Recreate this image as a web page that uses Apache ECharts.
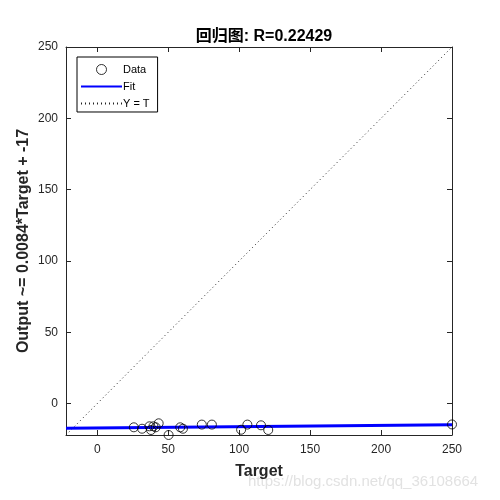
<!DOCTYPE html>
<html><head><meta charset="utf-8">
<script src="https://cdn.jsdelivr.net/npm/echarts@6/dist/echarts.min.js"></script>
<style>html,body{margin:0;padding:0;background:#fff}#c{width:500px;height:500px}</style>
</head><body><div id="c"></div>
<script>
const titleText = '回归图: R=0.22429';
const xName = 'Target';
const yName = 'Output ~= 0.0084*Target + -17';
const tickValues = [0, 50, 100, 150, 200, 250];
const axisMin = -22;
const axisMax = 250;
const targets = [25.8, 31.6, 36.8, 37.9, 39.6, 41.2, 43.3, 50.3, 58.5, 60.4, 73.7, 80.8, 101.4, 105.8, 115.4, 120.5, 250];
const outputs = [-16.6, -17.6, -15.9, -18.5, -15.9, -16.6, -13.8, -22, -16.6, -17.6, -14.7, -14.7, -18.3, -14.7, -15.2, -18.5, -14.6];
const fitX = [-22, 250];
const fitY = [-17.2, -14.9];
const identX = [-22, 250];
const identY = [-22, 250];
const legendNames = ['Data', 'Fit', 'Y = T'];
const watermark = 'https://blog.csdn.net/qq_36108664';

const font = 'Liberation Sans, Arial, Noto Sans CJK SC, sans-serif';
const chart = echarts.init(document.getElementById('c'));
const axisCommon = {
  type: 'value', min: axisMin, max: axisMax,
  axisLine: {show: true, onZero: false, lineStyle: {color: '#262626', width: 1}},
  axisTick: {show: true, inside: true, length: 5, customValues: tickValues, lineStyle: {color: '#262626'}},
  splitLine: {show: false}
};
chart.setOption({
  animation: false,
  title: {text: titleText, left: 259, top: 24, textAlign: 'center',
    textStyle: {fontFamily: font, fontSize: 16, fontWeight: 'bold', color: '#000'}},
  grid: {left: 66, right: 48, top: 47, bottom: 65, containLabel: false},
  legend: {
    orient: 'vertical', left: 77, top: 57,
    data: [
      {name: legendNames[0], itemStyle: {borderWidth: 1}},
      {name: legendNames[1], itemStyle: {opacity: 0}},
      {name: legendNames[2], itemStyle: {opacity: 0}}
    ],
    backgroundColor: '#fff', borderColor: '#000', borderWidth: 1,
    padding: [7, 8, 3, 3], itemWidth: 41, itemHeight: 10, itemGap: 6,
    textStyle: {fontFamily: font, fontSize: 11, color: '#000', padding: [0, 0, 0, -4]}
  },
  xAxis: [
    Object.assign({}, axisCommon, {position: 'bottom',
      name: xName, nameLocation: 'middle', nameGap: 29,
      nameTextStyle: {fontFamily: font, fontSize: 16, fontWeight: 'bold', color: '#262626'},
      axisLabel: {customValues: tickValues, fontFamily: font, fontSize: 12, color: '#262626', margin: 9}}),
    Object.assign({}, axisCommon, {position: 'top', axisLabel: {show: false}})
  ],
  yAxis: [
    Object.assign({}, axisCommon, {position: 'left',
      name: yName, nameLocation: 'middle', nameGap: 34, nameRotate: 90, nameMoveOverlap: false,
      nameTextStyle: {fontFamily: font, fontSize: 16, fontWeight: 'bold', color: '#262626'},
      axisLabel: {customValues: tickValues, fontFamily: font, fontSize: 12, color: '#262626', margin: 8}}),
    Object.assign({}, axisCommon, {position: 'right', axisLabel: {show: false}})
  ],
  series: [
    {name: 'Y = T', type: 'line', symbol: 'none', data: identX.map((x, i) => [x, identY[i]]),
      lineStyle: {color: '#222', width: 1, type: [1, 3]}, itemStyle: {color: '#222'}, z: 2},
    {name: 'Fit', type: 'line', symbol: 'none', data: fitX.map((x, i) => [x, fitY[i]]),
      lineStyle: {color: '#0000ff', width: 3}, itemStyle: {color: '#0000ff'}, z: 3},
    {name: 'Data', type: 'scatter', symbol: 'circle', symbolSize: 9,
      data: targets.map((x, i) => [x, outputs[i]]),
      itemStyle: {color: 'rgba(0,0,0,0)', borderColor: '#000', borderWidth: 1}, z: 4}
  ],
  graphic: [{type: 'text', left: 248, top: 474,
    style: {text: watermark, fontFamily: font, fontSize: 15, fill: '#e2e2e2'}}]
});
</script></body></html>
